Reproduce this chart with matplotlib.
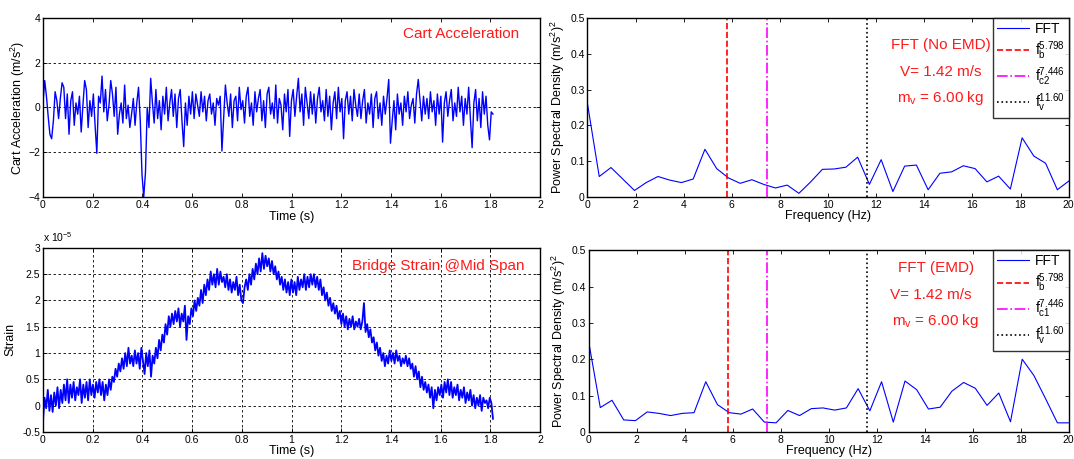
import numpy as np
import matplotlib
matplotlib.use('Agg')
import matplotlib.pyplot as plt

plt.rcParams['font.family'] = ['Liberation Sans', 'DejaVu Sans']
plt.rcParams['mathtext.fontset'] = 'custom'
plt.rcParams['mathtext.rm'] = 'Liberation Sans'
plt.rcParams['mathtext.it'] = 'Liberation Sans'

# -------------------------------------
# cart acceleration (m/s^2), 0 .. 1.81 s
acc = [
    0.2, 1.2, 0.5, -0.4, -1.2, -1.4, -0.6, 0.7, 0.3, -0.5, 0.4, 1.1, 0.9,
    -0.5, 0.6, -1.2, 0.3, 0.7, -0.8, 0.2, -0.3, 0.5, -1.1, 0.1, 1.2, 0.8,
    -0.9, 0.3, -0.4, 0.6, -0.8, -2.05, 0.5, 0.2, 1.4, -0.2, 0.8, -0.6, 0.1,
    1.2, 0.6, -0.4, 0.9, -1.2, -0.3, 0.2, -0.7, 1.0, -0.5, 0.1, -0.9, -0.3,
    0.4, -0.8, 0.2, 0.9, -0.6, -3.0, -4.0, -2.9, 0.0, -0.9, 1.3, 0.2, -0.7,
    0.8, -0.5, 0.3, -1.0, 0.5, -0.3, 0.9, -0.6, 0.2, 0.8, -0.4, 0.6, -0.9,
    0.4, 0.8, -0.6, -1.75, 0.2, -0.8, 0.5, -0.3, 0.7, -0.5, 0.6, 0.1, -0.4,
    0.7, -0.2, 0.5, -0.6, 0.3, 0.6, -0.3, 0.2, -0.8, 0.4, 0.1, 0.5, -1.95,
    -0.5, 1.0, 0.2, -0.4, 0.6, -0.9, 0.3, 0.5, -0.6, 0.9, -0.1, 0.3, -0.7,
    0.5, 0.9, -0.4, 0.2, -0.8, 0.7, -0.2, 0.4, 0.8, -0.6, 0.3, -0.9, 0.6,
    0.9, -0.3, 0.2, -0.5, 1.0, -0.7, 0.4, 0.1, -1.0, 0.6, -0.2, 0.8, -1.3,
    0.3, 0.8, -0.4, 0.5, 1.3, -0.2, 0.6, -0.8, 0.9, 0.2, -0.5, 0.7, -0.3,
    0.6, -0.7, 0.4, 0.9, -0.2, 0.3, -0.6, 0.8, -0.4, 0.5, -1.0, 0.2, 0.7,
    -0.5, 0.9, -0.2, 0.4, -1.4, 0.3, 0.7, -0.3, 0.5, -0.6, 0.8, 0.1, -0.4,
    0.6, -0.5, 0.3, 0.8, -0.7, 0.2, -0.3, 0.6, -0.9, 0.4, 0.7, -0.5, 0.2,
    -0.8, 0.5, -0.3, 0.4, 1.25, -1.6, -0.6, 0.3, -1.0, 0.6, -0.3, 0.2, -0.8,
    0.5, -0.2, 0.7, -0.5, 0.1, 0.4, -0.7, 0.6, 1.25, 0.3, -0.6, 0.5, -0.3,
    0.4, -0.5, 0.7, -0.2, 0.3, -0.8, 0.6, -0.3, 0.5, -1.55, 0.2, 0.7, -0.4,
    0.3, 0.8, -0.6, 0.2, -0.4, 0.9, -0.2, 0.5, -0.8, 0.4, -0.3, 0.9, -0.5,
    -1.8, 0.2, 0.8, -0.6, 0.4, -0.9, 0.7, -0.3, 0.5, -0.8, -1.45, -0.2, -0.3,
]

# bridge strain at mid span (x 1e-5), 0 .. 1.81 s
strain = [
    -0.3, 0.15, -0.05, 0.3, -0.1, 0.2, -0.12, 0.25, 0.0, 0.35, -0.05, 0.3, 0.05, 0.4,
    0.1, 0.5, 0.05, 0.4, 0.15, 0.45, 0.1, 0.35, 0.2, 0.5, 0.05, 0.4, 0.15, 0.45,
    0.1, 0.5, 0.2, 0.4, 0.15, 0.45, 0.25, 0.5, 0.2, 0.45, 0.1, 0.4, 0.2, 0.5,
    0.3, 0.55, 0.45, 0.7, 0.55, 0.8, 0.65, 0.9, 0.7, 1.0, 0.75, 1.1, 0.8, 0.95,
    0.75, 1.05, 0.8, 1.0, 0.7, 1.1, 0.85, 0.6, 1.0, 0.75, 1.05, 0.55, 0.95, 0.8,
    1.1, 0.9, 1.25, 1.05, 1.35, 1.2, 1.55, 1.35, 1.7, 1.5, 1.75, 1.55, 1.8, 1.6,
    1.85, 1.5, 1.75, 1.6, 1.9, 1.25, 1.7, 1.55, 1.85, 1.7, 2.0, 1.8, 2.05, 1.9,
    2.2, 1.95, 2.3, 2.1, 2.4, 2.2, 2.55, 2.3, 2.5, 2.25, 2.6, 2.3, 2.55, 2.35,
    2.45, 2.25, 2.5, 2.2, 2.4, 2.15, 2.35, 2.2, 2.45, 2.1, 2.3, 2.0, 1.95, 2.25,
    2.4, 2.2, 2.5, 2.3, 2.6, 2.4, 2.7, 2.5, 2.8, 2.55, 2.9, 2.6, 2.85, 2.65,
    2.8, 2.55, 2.75, 2.5, 2.65, 2.4, 2.55, 2.3, 2.45, 2.2, 2.4, 2.15, 2.35, 2.1,
    2.4, 2.15, 2.35, 2.1, 2.45, 2.2, 2.4, 2.25, 2.5, 2.2, 2.45, 2.25, 2.5, 2.3,
    2.5, 2.25, 2.45, 2.2, 2.4, 2.1, 2.25, 2.0, 2.15, 1.9, 2.05, 1.8, 1.95, 1.75,
    1.9, 1.65, 1.8, 1.55, 1.75, 1.5, 1.7, 1.45, 1.65, 1.5, 1.7, 1.45, 1.6, 1.5,
    1.65, 1.45, 1.6, 1.95, 1.4, 1.55, 1.3, 1.45, 1.2, 1.3, 1.05, 1.2, 0.95, 1.1,
    0.85, 1.0, 0.75, 0.95, 0.8, 1.05, 0.85, 1.0, 0.8, 1.05, 0.85, 0.95, 0.75, 0.9,
    0.8, 0.95, 0.75, 0.9, 0.7, 0.8, 0.55, 0.75, 0.5, 0.65, 0.35, 0.55, 0.3, 0.45,
    0.25, 0.4, 0.15, 0.35, -0.05, 0.3, 0.1, 0.35, 0.2, 0.4, 0.15, 0.45, 0.25, 0.5,
    0.2, 0.45, 0.15, 0.35, 0.2, 0.4, 0.1, 0.3, 0.15, 0.35, 0.05, 0.25, 0.1, 0.3,
    0.0, 0.2, -0.05, 0.15, 0.0, 0.2, -0.1, 0.15, 0.05, 0.1, -0.05, 0.15, 0.05, -0.25,
]

t_end = 1.81

# FFT spectra, frequency step ~0.488 Hz
freq_step = 0.48828
psd_no_emd = [
    0.26, 0.057, 0.082, 0.05, 0.018, 0.04, 0.057, 0.047, 0.04, 0.05,
    0.133, 0.079, 0.053, 0.038, 0.048, 0.035, 0.025, 0.033, 0.01, 0.042,
    0.077, 0.078, 0.083, 0.111, 0.035, 0.104, 0.015, 0.086, 0.089, 0.02,
    0.066, 0.07, 0.087, 0.079, 0.042, 0.058, 0.022, 0.165, 0.114, 0.094,
    0.02, 0.045,
]
psd_emd = [
    0.25, 0.067, 0.087, 0.033, 0.031, 0.055, 0.051, 0.045, 0.051, 0.053,
    0.138, 0.075, 0.053, 0.049, 0.063, 0.027, 0.025, 0.059, 0.045, 0.064,
    0.066, 0.06, 0.066, 0.119, 0.058, 0.138, 0.027, 0.14, 0.116, 0.063,
    0.068, 0.112, 0.136, 0.12, 0.073, 0.107, 0.028, 0.2, 0.155, 0.091,
    0.025, 0.025,
]

f_b = 5.798
f_c = 7.446
f_v = 11.60
# -------------------------------------

blue = '#0000ff'
red = '#ff1a1a'
grid_kw = dict(color='k', linestyle=(0, (3, 3)), linewidth=0.6)


def matlab_axes(ax):
    ax.tick_params(direction='in', top=True, right=True, labelsize=7.5,
                   length=3, width=0.6, pad=2)
    for s in ax.spines.values():
        s.set_linewidth(1.0)


fig = plt.figure(figsize=(10.74, 4.59), dpi=100)

# top left: cart acceleration
ax1 = fig.add_axes([0.040, 0.571, 0.463, 0.390])
t1 = np.linspace(0, t_end, len(acc))
ax1.plot(t1, acc, color=blue, lw=1.0)
ax1.set_xlim(0, 2)
ax1.set_ylim(-4, 4)
ax1.set_xticks(np.arange(0, 2.01, 0.2))
ax1.set_xticklabels(['0', '0.2', '0.4', '0.6', '0.8', '1', '1.2', '1.4', '1.6', '1.8', '2'])
ax1.set_yticks([-4, -2, 0, 2, 4])
ax1.yaxis.grid(True, **grid_kw)
ax1.set_xlabel('Time (s)', fontsize=9, labelpad=1)
ax1.set_ylabel('Cart Acceleration (m/s$^2$)', fontsize=9, labelpad=1)
ax1.text(0.84, 0.91, 'Cart Acceleration', transform=ax1.transAxes,
         color=red, fontsize=11, ha='center', va='center')
matlab_axes(ax1)

# bottom left: strain
ax2 = fig.add_axes([0.040, 0.059, 0.463, 0.401])
t2 = np.linspace(0, t_end, len(strain))
ax2.plot(t2, strain, color=blue, lw=1.3)
ax2.set_xlim(0, 2)
ax2.set_ylim(-0.5, 3)
ax2.set_xticks(np.arange(0, 2.01, 0.2))
ax2.set_xticklabels(['0', '0.2', '0.4', '0.6', '0.8', '1', '1.2', '1.4', '1.6', '1.8', '2'])
ax2.set_yticks([-0.5, 0, 0.5, 1, 1.5, 2, 2.5, 3])
ax2.set_yticklabels(['-0.5', '0', '0.5', '1', '1.5', '2', '2.5', '3'])
ax2.grid(True, **grid_kw)
ax2.set_xlabel('Time (s)', fontsize=9, labelpad=0)
ax2.set_ylabel('Strain', fontsize=9, labelpad=4)
ax2.text(0.0, 1.02, r'x 10$^{-5}$', transform=ax2.transAxes, fontsize=7.5,
         ha='left', va='bottom')
ax2.text(0.795, 0.90, 'Bridge Strain @Mid Span', transform=ax2.transAxes,
         color=red, fontsize=11, ha='center', va='center')
matlab_axes(ax2)


def fft_panel(ax, psd, title, c_label, ys):
    fr = np.arange(len(psd)) * freq_step
    ax.plot(fr, psd, color=blue, lw=0.8, label='FFT')
    ax.axvline(f_b, color='#ff0000', ls='--', lw=1.2,
               label=r'$\mathregular{f_b^{5.798}}$')
    ax.axvline(f_c, color='#ff00ff', ls='-.', lw=1.2,
               label=r'$\mathregular{f_{%s}^{7.446}}$' % c_label)
    ax.axvline(f_v, color='k', ls=':', lw=1.2,
               label=r'$\mathregular{f_v^{11.60}}$')
    ax.set_xlim(0, 20)
    ax.set_ylim(0, 0.5)
    ax.set_xticks(np.arange(0, 21, 2))
    ax.set_yticks([0, 0.1, 0.2, 0.3, 0.4, 0.5])
    ax.set_yticklabels(['0', '0.1', '0.2', '0.3', '0.4', '0.5'])
    ax.set_xlabel('Frequency (Hz)', fontsize=9, labelpad=0)
    ax.set_ylabel('Power Spectral Density (m/s$^2$)$^2$', fontsize=9, labelpad=2)
    leg = ax.legend(loc='upper right', fontsize=10, frameon=True, fancybox=False,
                    edgecolor='k', borderaxespad=0, handlelength=2.3,
                    labelspacing=0.25, borderpad=0.3, handletextpad=0.4)
    leg.get_frame().set_linewidth(1.0)
    for (x, y), s in zip(ys, [title, 'V= 1.42 m/s', r'm$_\mathregular{v}$ = 6.00 kg']):
        ax.text(x, y, s, transform=ax.transAxes, color=red, fontsize=11,
                ha='center', va='center')
    matlab_axes(ax)


ax3 = fig.add_axes([0.547, 0.571, 0.448, 0.390])
fft_panel(ax3, psd_no_emd, 'FFT (No EMD)', 'c2',
          [(0.734, 0.85), (0.734, 0.70), (0.734, 0.55)])

ax4 = fig.add_axes([0.548, 0.059, 0.447, 0.396])
fft_panel(ax4, psd_emd, 'FFT (EMD)', 'c1',
          [(0.723, 0.90), (0.713, 0.755), (0.723, 0.61)])

fig.savefig('out.png', dpi=100)
